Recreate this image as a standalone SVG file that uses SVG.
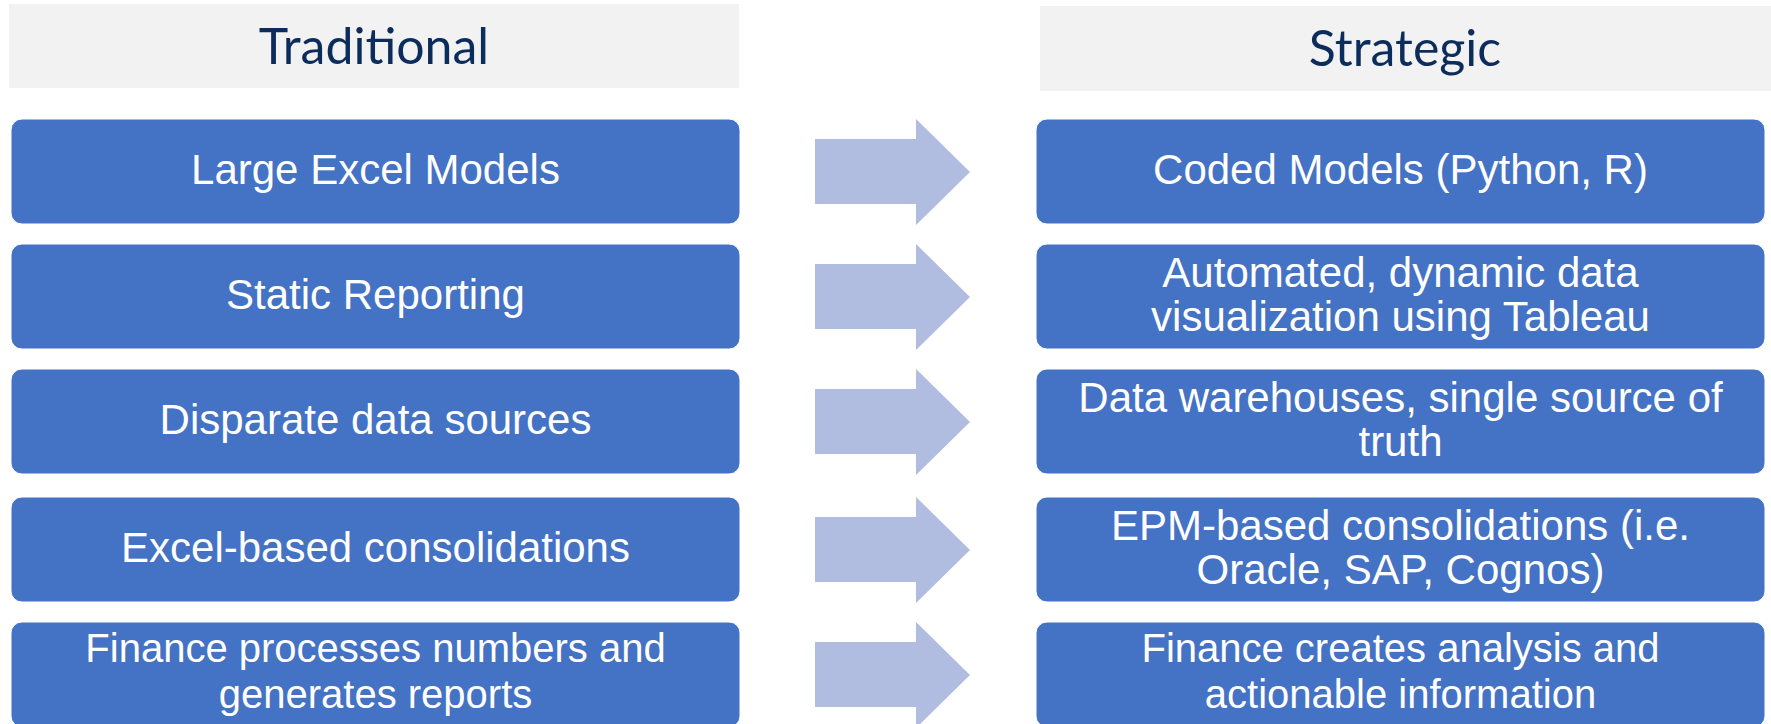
<svg xmlns="http://www.w3.org/2000/svg" width="1771" height="724" viewBox="0 0 1771 724">
  <defs>
    <style>
      .hdr { fill: #f2f2f2; }
      .hdr-text { font-family: Lato, "Open Sans", sans-serif; font-size: 50px; fill: #0c2d5b; text-anchor: middle; }
      .box { fill: #4472c4; stroke: #ffffff; stroke-width: 1; }
      .box-text { font-family: "Liberation Sans", Arial, sans-serif; font-size: 42px; fill: #ffffff; text-anchor: middle; }
      .box-text.tight { font-size: 40px; }
      .arrow { fill: #b0bde0; }
    </style>
    <!-- block arrow centred on y=0 -->
    <path id="blockArrow" d="M815,-32.5 H916 V-52.5 L970,0.5 L916,53.5 V32.5 H815 Z"/>
  </defs>
  <rect width="1771" height="724" fill="#ffffff"/>

  <!-- column headers -->
  <g id="header-traditional">
    <rect class="hdr" x="9" y="4" width="730" height="84"/>
    <text class="hdr-text" x="374" y="64">Traditional</text>
  </g>
  <g id="header-strategic">
    <rect class="hdr" x="1040" y="6" width="731" height="85"/>
    <text class="hdr-text" x="1405" y="66">Strategic</text>
  </g>

  <!-- left column -->
  <g id="trad-1">
    <rect class="box" x="11" y="119" width="729" height="105" rx="11"/>
    <text class="box-text" x="375.5" y="184">Large Excel Models</text>
  </g>
  <g id="trad-2">
    <rect class="box" x="11" y="244" width="729" height="105" rx="11"/>
    <text class="box-text" x="375.5" y="309">Static Reporting</text>
  </g>
  <g id="trad-3">
    <rect class="box" x="11" y="369" width="729" height="105" rx="11"/>
    <text class="box-text" x="375.5" y="434">Disparate data sources</text>
  </g>
  <g id="trad-4">
    <rect class="box" x="11" y="497" width="729" height="105" rx="11"/>
    <text class="box-text" x="375.5" y="562">Excel-based consolidations</text>
  </g>
  <g id="trad-5">
    <rect class="box" x="11" y="622" width="729" height="105" rx="11"/>
    <text class="box-text tight" x="375.5" y="662">Finance processes numbers and<tspan x="375.5" dy="46">generates reports</tspan></text>
  </g>

  <!-- right column -->
  <g id="strat-1">
    <rect class="box" x="1036" y="119" width="729" height="105" rx="11"/>
    <text class="box-text" x="1400.5" y="184">Coded Models (Python, R)</text>
  </g>
  <g id="strat-2">
    <rect class="box" x="1036" y="244" width="729" height="105" rx="11"/>
    <text class="box-text" x="1400.5" y="287">Automated, dynamic data<tspan x="1400.5" dy="44">visualization using Tableau</tspan></text>
  </g>
  <g id="strat-3">
    <rect class="box" x="1036" y="369" width="729" height="105" rx="11"/>
    <text class="box-text" x="1400.5" y="412">Data warehouses, single source of<tspan x="1400.5" dy="44">truth</tspan></text>
  </g>
  <g id="strat-4">
    <rect class="box" x="1036" y="497" width="729" height="105" rx="11"/>
    <text class="box-text" x="1400.5" y="540">EPM-based consolidations (i.e.<tspan x="1400.5" dy="44">Oracle, SAP, Cognos)</tspan></text>
  </g>
  <g id="strat-5">
    <rect class="box" x="1036" y="622" width="729" height="105" rx="11"/>
    <text class="box-text tight" x="1400.5" y="662">Finance creates analysis and<tspan x="1400.5" dy="46">actionable information</tspan></text>
  </g>

  <!-- transition arrows -->
  <g id="connectors">
    <use href="#blockArrow" class="arrow" transform="translate(0,171.5)"/>
    <use href="#blockArrow" class="arrow" transform="translate(0,296.5)"/>
    <use href="#blockArrow" class="arrow" transform="translate(0,421.5)"/>
    <use href="#blockArrow" class="arrow" transform="translate(0,549.5)"/>
    <use href="#blockArrow" class="arrow" transform="translate(0,674.5)"/>
  </g>
</svg>
